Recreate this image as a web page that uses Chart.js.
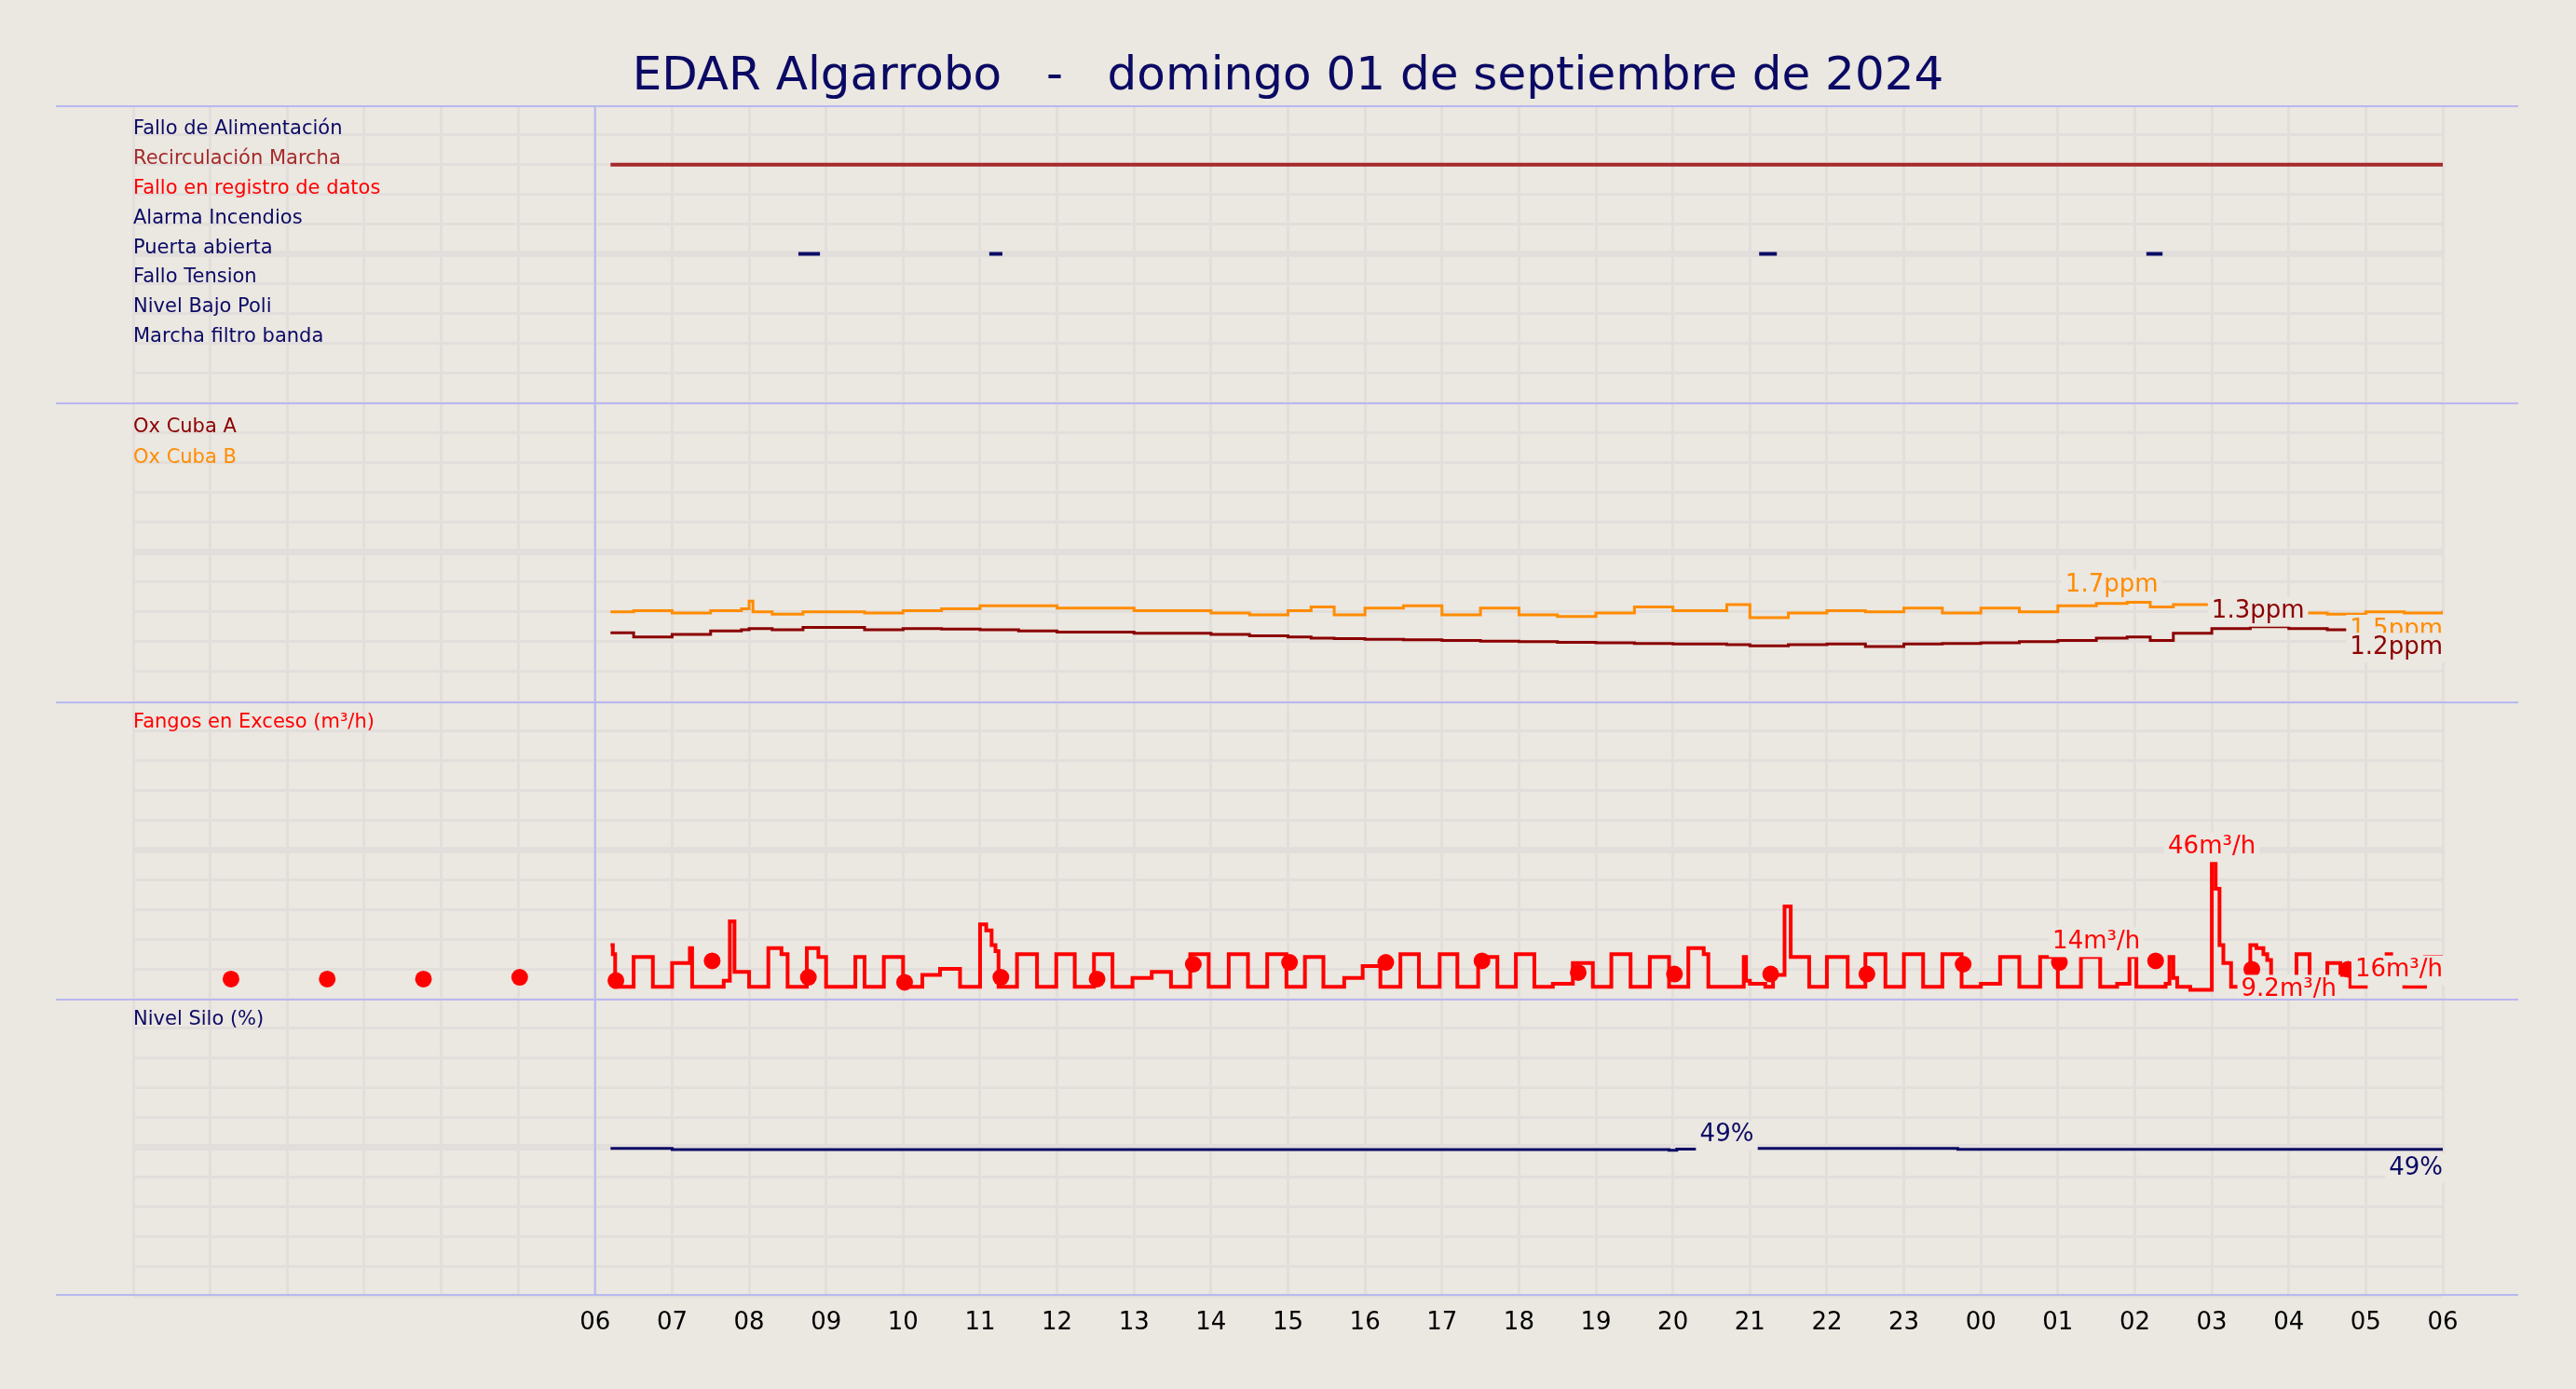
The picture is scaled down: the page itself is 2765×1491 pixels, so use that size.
<!DOCTYPE html>
<html>
<head>
<meta charset="utf-8">
<script src="https://cdn.jsdelivr.net/npm/chart.js@4"></script>
<style>
  body { margin: 0; background: #ebe7e1; width: 2765px; height: 1491px; overflow: hidden; position: relative; font-family: "DejaVu Sans", sans-serif; }
  #titulo { position: absolute; top: 50px; left: 0; width: 2765px; text-align: center; font-size: 50px; color: #0a0a64; white-space: pre; }
  canvas { position: absolute; left: 0; }
</style>
</head>
<body>
<div id="titulo">EDAR Algarrobo   -   domingo 01 de septiembre de 2024</div>
<canvas id="c1" width="2765" height="319" style="top:113px"></canvas>
<canvas id="c2" width="2765" height="321" style="top:432px"></canvas>
<canvas id="c3" width="2765" height="319" style="top:753px"></canvas>
<canvas id="c4" width="2765" height="419" style="top:1072px"></canvas>
<script>
// horas desde las 06:00; el eje va de -6 a 24
const estados = ['Fallo de Alimentación', 'Recirculación Marcha', 'Fallo en registro de datos', 'Alarma Incendios',
    'Puerta abierta', 'Fallo Tension', 'Nivel Bajo Poli', 'Marcha filtro banda'];
const coloresEstados = ['#0a0a64', '#a52a2a', '#ff0000', '#0a0a64', '#0a0a64', '#0a0a64', '#0a0a64', '#0a0a64'];
const recircHoras = [0.2, 24];
const puertaHoras = [2.64, 2.92, null, 5.12, 5.29, null, 15.12, 15.35, null, 20.15, 20.36];

const oxHoras = [0.2, 0.5, 1.0, 1.5, 1.9, 2.0, 2.05, 2.3, 2.7, 3.5, 4.0, 4.5, 5.0, 5.5, 6.0, 7.0, 8.0, 8.5, 9.0, 9.3, 9.6, 10.0, 10.5, 11.0, 11.5, 12.0, 12.5, 13.0, 13.5, 14.0, 14.7, 15.0, 15.5, 16.0, 16.5, 17.0, 17.5, 18.0, 18.5, 19.0, 19.5, 19.9, 20.2, 20.5, 21.0, 21.5, 22.0, 22.5, 23.0, 23.5, 24];
const oxCubaB = [1.5, 1.52, 1.48, 1.52, 1.55, 1.68, 1.5, 1.46, 1.5, 1.48, 1.52, 1.55, 1.6, 1.6, 1.56, 1.52, 1.48, 1.45, 1.52, 1.58, 1.45, 1.56, 1.6, 1.45, 1.56, 1.45, 1.42, 1.48, 1.58, 1.52, 1.62, 1.4, 1.48, 1.52, 1.5, 1.56, 1.48, 1.56, 1.5, 1.6, 1.64, 1.66, 1.58, 1.62, 1.52, 1.46, 1.48, 1.46, 1.5, 1.48, 1.52];
const oxCubaA = [1.15, 1.08, 1.12, 1.18, 1.2, 1.22, 1.22, 1.2, 1.24, 1.2, 1.22, 1.21, 1.2, 1.18, 1.16, 1.14, 1.12, 1.1, 1.08, 1.06, 1.05, 1.04, 1.03, 1.02, 1.01, 1.0, 0.99, 0.98, 0.97, 0.96, 0.95, 0.93, 0.95, 0.96, 0.92, 0.96, 0.97, 0.98, 1.0, 1.02, 1.06, 1.08, 1.02, 1.14, 1.22, 1.25, 1.22, 1.2, 1.18, 1.21, 1.2];

const fangosHoras = [0.2, 0.23, 0.26, 0.5, 0.75, 1.0, 1.23, 1.26, 1.67, 1.75, 1.81, 2.0, 2.25, 2.42, 2.5, 2.75, 2.9, 3.0, 3.38, 3.5, 3.75, 4.0, 4.25, 4.48, 4.74,
    5.0, 5.08, 5.15, 5.2, 5.24, 5.48, 5.74, 5.99, 6.23, 6.48, 6.72, 6.98, 7.23, 7.48, 7.73, 7.97, 8.23, 8.48, 8.73, 8.98, 9.22, 9.46, 9.73, 9.97, 10.2,
    10.46, 10.7, 10.97, 11.2, 11.47, 11.72, 11.96, 12.2, 12.44, 12.7, 12.96, 13.2, 13.45, 13.7, 13.95, 14.2, 14.4, 14.46, 14.92, 14.95, 15.0, 15.2, 15.3,
    15.45, 15.53, 15.77, 16.0, 16.27, 16.5, 16.76, 17.0, 17.25, 17.5, 17.75, 18.0, 18.25, 18.5, 18.77, 19.0, 19.3, 19.55, 19.77, 19.93, 19.98, 20.02,
    20.4, 20.45, 20.5, 20.55, 20.72, 21.0, 21.05, 21.1, 21.15, 21.25, 21.5, 21.58, 21.67, 21.72, 21.77, 22.1, 22.27, 22.5, 22.67, 22.8, 23.0, 23.27,
    23.33, 23.5, 23.77, 24];
const fangosValores = [18, 15, 4, 14, 4, 12, 17, 4, 6, 26, 9, 4, 17, 15, 4, 17, 14, 4, 14, 4, 14, 4, 8, 10, 4,
    25, 23, 18, 16, 4, 15, 4, 15, 4, 15, 4, 7, 9, 4, 15, 4, 15, 4, 15, 4, 14, 4, 7, 11, 4,
    15, 4, 15, 4, 14, 4, 15, 4, 5, 12, 4, 15, 4, 14, 4, 17, 15, 4, 14, 6, 5, 4, 8,
    31, 14, 4, 14, 4, 15, 4, 15, 4, 15, 4, 5, 14, 4, 14, 4, 14, 4, 5, 19, 14, 4,
    5, 14, 7, 4, 3, 46, 37, 18, 12, 4, 18, 17, 15, 13, 4, 15, 4, 12, 8, 4, 6, 15,
    13, 4, 14, 14];
const mediasHoras = [-4.73, -3.48, -2.23, -0.98, 0.27, 1.52, 2.77, 4.02, 5.27, 6.52, 7.77, 9.02, 10.27, 11.52, 12.77, 14.02, 15.27, 16.52, 17.77, 19.02, 20.27, 21.52, 22.77];
const mediasValores = [6.6, 6.6, 6.6, 7.2, 6.1, 12.7, 7.2, 5.5, 7.2, 6.6, 11.6, 12.2, 12.2, 12.7, 8.8, 8.3, 8.3, 8.3, 11.6, 12.2, 12.7, 9.9, 9.9];

const siloHoras = [0.2, 1.0, 13.95, 14.05, 14.3, 14.31, 15.1, 17.7, 24];
const siloValores = [49.6, 49.2, 49.0, 49.4, 49.4, null, 49.6, 49.3, 49.3];

const FONDO = '#ebe7e1';
const REJILLA = '#e2dedb';
const FUENTE = '"DejaVu Sans", sans-serif';

function puntos(xs, ys) { return xs.map((x, i) => ({ x: x, y: x === null ? null : ys[i] })); }

// textos de cada panel: etiquetas a la izquierda y valores anotados
function pluginTextos(etiquetas, anotaciones, ultimo) {
    return {
        id: 'textos',
        afterDatasetsDraw(chart) {
            const ctx = chart.ctx, a = chart.chartArea, x = chart.scales.x, y = chart.scales.y;
            ctx.save();
            // separadores y linea de las 06
            ctx.strokeStyle = '#b8b8f0'; ctx.lineWidth = 2;
            ctx.beginPath(); ctx.moveTo(60, a.top + 1); ctx.lineTo(2703, a.top + 1);
            if (ultimo) { ctx.moveTo(60, a.bottom - 1); ctx.lineTo(2703, a.bottom - 1); }
            const x0 = x.getPixelForValue(0);
            ctx.moveTo(x0, a.top); ctx.lineTo(x0, a.bottom); ctx.stroke();
            ctx.font = '21px ' + FUENTE; ctx.textBaseline = 'middle'; ctx.textAlign = 'left';
            etiquetas.forEach(e => { ctx.fillStyle = e.color; ctx.fillText(e.texto, a.left, y.getPixelForValue(e.v)); });
            ctx.font = '26px ' + FUENTE;
            anotaciones.forEach(e => {
                ctx.textAlign = e.align || 'center';
                const px = x.getPixelForValue(e.x), py = y.getPixelForValue(e.y);
                const w = ctx.measureText(e.texto).width;
                const lx = e.align === 'right' ? px - w : px - w / 2;
                ctx.fillStyle = FONDO; ctx.fillRect(lx - 4, py - 16, w + 8, 32);
                ctx.fillStyle = e.color; ctx.fillText(e.texto, px, py);
            });
            ctx.restore();
        }
    };
}

function crearPanel(id, datasets, yMax, reverse, etiquetas, anotaciones, ultimo) {
    new Chart(document.getElementById(id), {
        type: 'line',
        data: { datasets: datasets },
        options: {
            responsive: false, animation: false, devicePixelRatio: 1,
            layout: { autoPadding: false, padding: { left: 143, right: 143, top: 0, bottom: 0 } },
            plugins: { legend: { display: false }, tooltip: { enabled: false } },
            elements: { point: { radius: 0 } },
            scales: {
                x: {
                    type: 'linear', min: -6, max: 24,
                    grid: { color: REJILLA, lineWidth: 3, drawTicks: false },
                    border: { display: false },
                    ticks: {
                        display: ultimo, stepSize: 1, autoSkip: false, maxRotation: 0, padding: 14,
                        color: '#000', font: { size: 26, family: FUENTE },
                        callback: v => v >= 0 ? String((v + 6) % 24).padStart(2, '0') : ''
                    },
                    afterFit: s => { s.height = ultimo ? 100 : 0; }
                },
                y: {
                    min: 0, max: yMax, reverse: reverse,
                    grid: { color: REJILLA, lineWidth: c => c.index === 5 ? 7 : 3, drawTicks: false },
                    border: { display: false },
                    ticks: { display: false, stepSize: yMax / 10 },
                    afterFit: s => { s.width = 0; }
                }
            }
        },
        plugins: [pluginTextos(etiquetas, anotaciones, ultimo)]
    });
}

// panel 1: estados
crearPanel('c1', [
    { data: recircHoras.map(h => ({ x: h, y: 2 })), borderColor: '#a52a2a', borderWidth: 4 },
    { data: puertaHoras.map(h => ({ x: h, y: h === null ? null : 5.0 })), borderColor: '#0a0a64', borderWidth: 4, spanGaps: false }
], 10, true, estados.map((t, i) => ({ texto: t, color: coloresEstados[i], v: i + 0.8 })), [], false);

// panel 2: oxigeno
crearPanel('c2', [
    { data: puntos(oxHoras, oxCubaB), borderColor: '#ff8c00', borderWidth: 3, stepped: true },
    { data: puntos(oxHoras, oxCubaA), borderColor: '#8b0000', borderWidth: 3, stepped: true }
], 5, false, [
    { texto: 'Ox Cuba A', color: '#8b0000', v: 4.58 },
    { texto: 'Ox Cuba B', color: '#ff8c00', v: 4.08 }
], [
    { texto: '1.7ppm', color: '#ff8c00', x: 19.7, y: 1.95 },
    { texto: '1.3ppm', color: '#8b0000', x: 21.6, y: 1.5 },
    { texto: '1.5ppm', color: '#ff8c00', x: 24, y: 1.2, align: 'right' },
    { texto: '1.2ppm', color: '#8b0000', x: 24, y: 0.9, align: 'right' }
], false);

// panel 3: fangos
crearPanel('c3', [
    { data: puntos(fangosHoras, fangosValores), borderColor: '#ff0000', borderWidth: 4, stepped: true },
    { data: puntos(mediasHoras, mediasValores), showLine: false, pointRadius: 9, pointBackgroundColor: '#ff0000', pointBorderWidth: 0 }
], 100, false, [
    { texto: 'Fangos en Exceso (m³/h)', color: '#ff0000', v: 92.8 }
], [
    { texto: '46m³/h', color: '#ff0000', x: 21.0, y: 51 },
    { texto: '14m³/h', color: '#ff0000', x: 19.5, y: 19 },
    { texto: '9.2m³/h', color: '#ff0000', x: 22.0, y: 3 },
    { texto: '16m³/h', color: '#ff0000', x: 24, y: 9.5, align: 'right' }
], false);

// panel 4: nivel silo
crearPanel('c4', [
    { data: puntos(siloHoras, siloValores), borderColor: '#0a0a64', borderWidth: 3, stepped: true, spanGaps: false }
], 100, false, [
    { texto: 'Nivel Silo (%)', color: '#0a0a64', v: 92.8 }
], [
    { texto: '49%', color: '#0a0a64', x: 14.7, y: 54 },
    { texto: '49%', color: '#0a0a64', x: 24, y: 43, align: 'right' }
], true);
</script>
</body>
</html>
